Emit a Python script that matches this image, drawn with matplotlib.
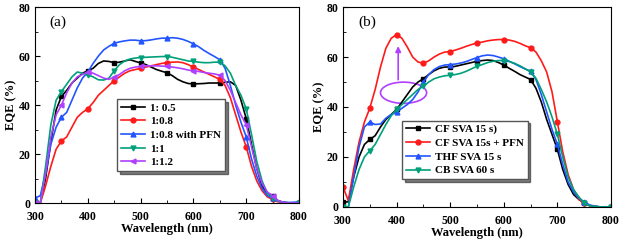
import numpy as np
import matplotlib
matplotlib.use('Agg')
import matplotlib.pyplot as plt
from matplotlib.patches import Ellipse
from matplotlib.ticker import MultipleLocator

plt.rcParams['font.family'] = ['Liberation Serif', 'DejaVu Serif']

wl = np.arange(300, 801, 10)

# panel (a)
a_labels = ['1: 0.5', '1:0.8', '1:0.8 with PFN', '1:1', '1:1.2']
a_black = [0, 0, 10, 25, 38, 43.5, 46, 49, 51, 53, 54, 55, 57, 58, 57.8, 57.3, 57.5, 58, 58.5, 57.8,
           57.2, 56.5, 55.5, 54.5, 53.8, 53.2, 52, 50.5, 49.5, 48.8, 48.6, 48.7, 48.8, 49, 49, 49,
           49.3, 49.5, 48, 42, 34.5, 24, 14, 7, 4, 3, 1, 0.3, 0.1, 0, 0]
a_red = [1, 0, 7, 15, 22, 25.3, 27, 31, 35, 37, 38.5, 41, 44, 46, 48, 50, 51.5, 53, 54, 54.5,
         55, 55.5, 56, 56.5, 57, 57.3, 57.5, 57.6, 57.3, 56.5, 55.5, 54.5, 53.5, 52.5, 51.5, 50.5,
         48, 43, 36, 29, 23, 15, 9, 5, 2.5, 1.5, 0.5, 0.2, 0, 0, 0]
a_blue = [2, 3, 12, 24, 31, 35, 37, 42, 47, 51, 53.5, 57, 60, 62.5, 64, 65.2, 65.8, 66.2, 66.5, 66.5,
          66.2, 66.3, 66.6, 67, 67.3, 67.3, 67.5, 67.3, 66.8, 66, 65, 63.8, 62.3, 61, 59.8, 58.5,
          55, 48, 40, 33, 27, 18, 11, 6, 3, 2, 0.8, 0.3, 0.2, 0.3, 0.5]
a_green = [0, 0, 15, 32, 42, 45.5, 48.5, 51.5, 53.5, 53, 52.3, 51.5, 50.3, 50.2, 51, 54, 56.5, 58, 58.8, 59.2,
           59.4, 59.5, 59.6, 59.7, 59.8, 59.8, 59.5, 59, 58.5, 58, 57.8, 57.5, 57.3, 57.3, 57.5, 57.5,
           56, 53, 48, 44, 38.5, 28, 17, 9, 4, 2, 0.8, 0.3, 0, 0, 0]
a_purple = [0, 0, 12, 27, 36, 40, 45, 49, 51.5, 52.5, 53.5, 53, 52, 51, 50.5, 51.3, 52.5, 54, 55, 55.5,
            55.8, 56, 56, 56, 55.9, 55.8, 55.5, 55.2, 54.8, 54.3, 54, 53.7, 53.3, 53, 52.7, 52.2,
            50, 46, 41, 36, 32, 23, 14, 8, 4.5, 3, 1, 0.3, 0, 0, 0]

# panel (b)
b_labels = ['CF SVA 15 s)', 'CF SVA 15s + PFN', 'THF SVA 15 s', 'CB SVA 60 s']
b_black = [2, 2, 12, 20, 25, 27, 28.5, 32, 35, 37, 39, 42, 45, 48, 50, 51.3, 53, 54.5, 55.5, 56,
           56, 56.3, 56.8, 57.3, 57.8, 58.3, 58.6, 58.8, 58.6, 57.8, 56.8, 55.5, 54.3, 53, 52, 51,
           47.5, 42, 35, 29, 23, 15, 9, 5, 3, 1.5, 0.5, 0.2, 0, 0, 0]
b_red = [8, 2.5, 15, 26, 34, 39.5, 47, 56, 63.5, 67.5, 69, 67.5, 64, 60, 58, 57.5, 58.5, 60, 61.2, 62,
         62.2, 62.8, 63.5, 64.3, 65, 65.6, 66, 66.5, 66.8, 67, 67, 66.8, 66.3, 65.5, 64.5, 63.7,
         62, 58.5, 54, 46, 34, 22, 13, 7, 3, 1.5, 0.5, 0.2, 0, 0, 0]
b_blue = [0, 0, 12, 24, 32, 34, 33, 33.2, 35.5, 37, 38, 39.5, 41, 43, 46, 50, 53, 55, 56.2, 56.8,
          57, 57.2, 57.6, 58.2, 59, 59.8, 60.5, 60.8, 60.6, 60, 59.3, 58.3, 57.3, 56.2, 55.2, 54.3,
          51, 45, 38, 31, 25, 17, 10, 6, 3.5, 2, 0.8, 0.3, 0, 0, 0]
b_green = [0, 0, 8, 15, 20, 22.5, 25, 29, 33, 36.5, 39, 41, 43, 45, 47, 48.3, 50, 51.3, 52, 52.5,
           52.7, 53, 53.5, 54.3, 55.3, 56.3, 57, 57.8, 58.3, 58.6, 58.6, 58.2, 57.5, 56.5, 55.3, 54,
           51.5, 47, 42, 36, 29, 20, 12, 7, 4, 1.5, 0.5, 0.2, 0, 0, 0]

black = '#000000'
red = '#ff1a1a'
blue = '#2255ff'
green = '#00a07a'
purple = '#b040ff'

fig = plt.figure(figsize=(6.21, 2.44), dpi=100)
ax1 = fig.add_axes([0.0564, 0.168, 0.4251, 0.803])
ax2 = fig.add_axes([0.5523, 0.152, 0.4316, 0.819])

series_a = [(a_black, black, 's'), (a_red, red, 'o'), (a_blue, blue, '^'),
            (a_green, green, 'v'), (a_purple, purple, '<')]
for (y, c, m), lab in zip(series_a, a_labels):
    ax1.plot(wl, y, color=c, marker=m, markevery=5, ms=3.5, lw=1.2, label=lab)

series_b = [(b_black, black, 's'), (b_red, red, 'o'), (b_blue, blue, '^'), (b_green, green, 'v')]
for (y, c, m), lab in zip(series_b, b_labels):
    ax2.plot(wl, y, color=c, marker=m, markevery=5, ms=3.5, lw=1.2, label=lab)

for ax, tag in [(ax1, '(a)'), (ax2, '(b)')]:
    ax.set_xlim(300, 800)
    ax.set_ylim(0, 80)
    ax.xaxis.set_major_locator(MultipleLocator(100))
    ax.xaxis.set_minor_locator(MultipleLocator(50))
    ax.yaxis.set_major_locator(MultipleLocator(20))
    ax.yaxis.set_minor_locator(MultipleLocator(10))
    ax.tick_params(which='both', direction='in', labelsize=8.5)
    ax.tick_params(axis='x', pad=5.5)
    ax.tick_params(axis='y', pad=3)
    ax.tick_params(which='major', length=3.5)
    ax.tick_params(which='minor', length=2)
    for t in ax.get_xticklabels() + ax.get_yticklabels():
        t.set_fontweight('bold')
    ax.set_xlabel('Wavelength (nm)', fontsize=9, fontweight='bold', labelpad=0)
    ax.set_ylabel('EQE (%)', fontsize=9, fontweight='bold', labelpad=1)
    ax.text(328, 72.5, tag, fontsize=11)

leg_kw = dict(frameon=True, fancybox=False, shadow={'color': 'black'},
              handlelength=2.2, handletextpad=0.4, borderpad=0.35, labelspacing=0.35,
              edgecolor='#555555', prop={'weight': 'bold', 'size': 8})
l1 = ax1.legend(loc='upper left', bbox_to_anchor=(0.29, 0.56), **leg_kw)
l2 = ax2.legend(loc='upper left', bbox_to_anchor=(0.20, 0.46), **leg_kw)
for l in (l1, l2):
    l.get_frame().set_alpha(1)

ax2.add_patch(Ellipse((413, 45.7), 86, 8.5, fill=False, edgecolor=purple, lw=1.2))
ax2.annotate('', xy=(403, 65.5), xytext=(403, 49.8),
             arrowprops=dict(arrowstyle='-|>', color=purple, lw=1.2, mutation_scale=8))

fig.savefig('out.png', dpi=100)
